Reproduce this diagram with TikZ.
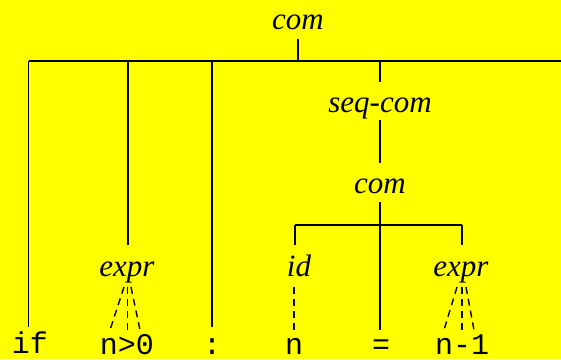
\documentclass[tikz,border=0pt]{standalone}
\usepackage{fontspec}
\setmainfont{Liberation Serif}
\newfontfamily\monof{Liberation Mono}
\definecolor{bgyellow}{RGB}{255,255,0}
\begin{document}
\begin{tikzpicture}[x=1pt,y=-1pt,
  nt/.style={inner sep=0pt,anchor=base,font=\fontsize{31}{31}\selectfont\itshape},
  tm/.style={inner sep=0pt,anchor=base,font=\fontsize{30}{30}\selectfont\monof},
  edge/.style={line width=1.4pt},
  dedge/.style={line width=1.4pt,dash pattern=on 7pt off 5pt}]
\fill[bgyellow] (0,0) rectangle (561,359);
\useasboundingbox (0,0) rectangle (561,359);
% nodes
\node[nt] (com1) at (298,29) {com};
\node[nt] (seq) at (380,112) {seq-com};
\node[nt] (com2) at (380,193) {com};
\node[nt] (expr1) at (127,276) {expr};
\node[nt] (id) at (299,276) {id};
\node[nt] (expr2) at (461,276) {expr};
\node[tm] (if) at (30,353.5) {if};
\node[tm] (ngt) at (127,354) {n>0};
\node[tm] (colon) at (212,354) {:};
\node[tm] (n) at (294,354) {n};
\node[tm] (eq) at (381,354) {=};
\node[tm] (nm) at (462,354) {n-1};
% junction coordinates
\coordinate (c1s) at (298,39);
\coordinate (b1) at (298,61);
\coordinate (b1l) at (28.5,61);
\coordinate (b1r) at (561,61);
\coordinate (jif) at (28.5,61);
\coordinate (jex) at (128,61);
\coordinate (jco) at (212,61);
\coordinate (jsq) at (380,61);
\coordinate (eif) at (28.5,327);
\coordinate (eex) at (128,245);
\coordinate (eco) at (212,327);
\coordinate (esq) at (380,82);
\coordinate (sqb) at (380,120);
\coordinate (c2t) at (380,163);
\coordinate (c2b) at (380,202);
\coordinate (b2) at (380,225);
\coordinate (b2l) at (295,225);
\coordinate (b2r) at (462,225);
\coordinate (eid) at (295,245);
\coordinate (eeq) at (380,330);
\coordinate (eex2) at (462,245);
% solid edges
\draw[edge] (c1s) -- (b1);
\draw[edge] (b1l) -- (b1r);
\draw[edge] (jif) -- (eif);
\draw[edge] (jex) -- (eex);
\draw[edge] (jco) -- (eco);
\draw[edge] (jsq) -- (esq);
\draw[edge] (sqb) -- (c2t);
\draw[edge] (c2b) -- (b2);
\draw[edge] (b2l) -- (b2r);
\draw[edge] (b2l) -- (eid);
\draw[edge] (b2) -- (eeq);
\draw[edge] (b2r) -- (eex2);
% dashed edges
\coordinate (d1a) at (124,287); \coordinate (d1b) at (110,330);
\coordinate (d2a) at (127.5,287); \coordinate (d2b) at (127.5,330);
\coordinate (d3a) at (131,287); \coordinate (d3b) at (140,330);
\draw[dedge] (d1a) -- (d1b);
\draw[dedge] (d2a) -- (d2b);
\draw[dedge] (d3a) -- (d3b);
\coordinate (dia) at (294,287); \coordinate (dib) at (294,330);
\draw[dedge] (dia) -- (dib);
\coordinate (e1a) at (457,287); \coordinate (e1b) at (444,330);
\coordinate (e2a) at (462,287); \coordinate (e2b) at (462,330);
\coordinate (e3a) at (466,287); \coordinate (e3b) at (474,330);
\draw[dedge] (e1a) -- (e1b);
\draw[dedge] (e2a) -- (e2b);
\draw[dedge] (e3a) -- (e3b);
\end{tikzpicture}
\end{document}
